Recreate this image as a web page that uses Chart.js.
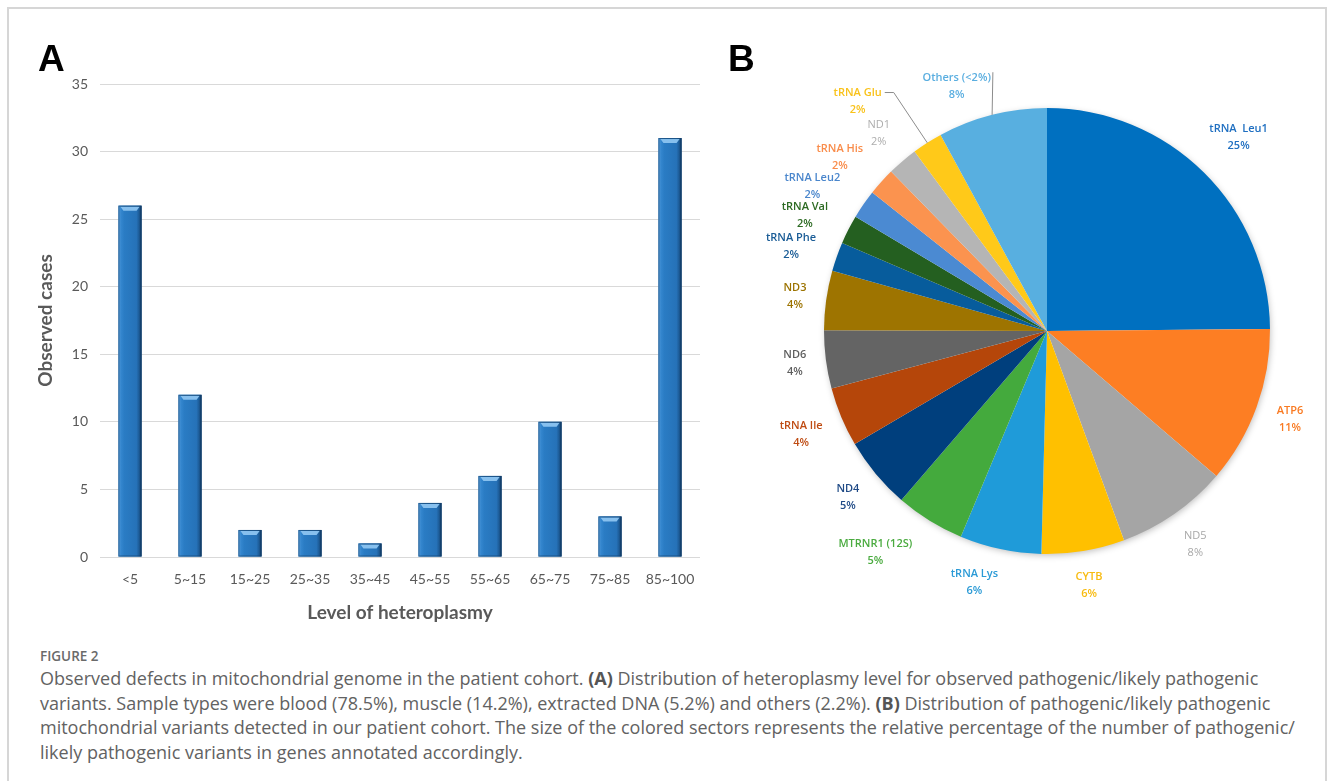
<!DOCTYPE html>
<html>
<head>
<meta charset="utf-8">
<script src="https://cdn.jsdelivr.net/npm/chart.js@4"></script>
<style>
  body { margin: 0; background: #fff; }
  #wrap { position: relative; width: 1331px; height: 781px; overflow: hidden; }
  #frame { position: absolute; left: 7px; top: 7px; width: 1320px; height: 790px;
           border: 2px solid #d6d6d6; box-sizing: border-box; }
  #barCanvas { position: absolute; left: 0; top: 0; }
  #pieCanvas { position: absolute; left: 720px; top: 0; }
  .panel { position: absolute; font-family: "Liberation Sans", Arial, sans-serif; font-weight: bold;
           font-size: 37px; color: #000; line-height: 1; }
  #caption { position: absolute; left: 40px; top: 646px; width: 1285px; color: #626262;
             font-family: "Open Sans", sans-serif; white-space: nowrap; }
  #caption .fig { font-size: 13.5px; font-weight: 600; color: #6a6a6a; line-height: 20px; }
  #caption .txt { font-size: 18px; line-height: 24.6px; letter-spacing: 0; }
  #caption b { font-weight: 700; color: #555; }
</style>
</head>
<body>
<div id="wrap">
  <div id="frame"></div>
  <canvas id="barCanvas" width="720" height="640"></canvas>
  <canvas id="pieCanvas" width="611" height="640"></canvas>
  <div class="panel" style="left:38px; top:40px;">A</div>
  <div class="panel" style="left:728px; top:40px;">B</div>
  <div id="caption">
    <div class="fig">FIGURE 2</div>
    <div class="txt">Observed defects in mitochondrial genome in the patient cohort. <b>(A)</b> Distribution of heteroplasmy level for observed pathogenic/likely pathogenic<br>variants. Sample types were blood (78.5%), muscle (14.2%), extracted DNA (5.2%) and others (2.2%). <b>(B)</b> Distribution of pathogenic/likely pathogenic<br>mitochondrial variants detected in our patient cohort. The size of the colored sectors represents the relative percentage of the number of pathogenic/<br>likely pathogenic variants in genes annotated accordingly.</div>
  </div>
</div>
<script>
// panel A: heteroplasmy level
const levels = ["<5", "5~15", "15~25", "25~35", "35~45", "45~55", "55~65", "65~75", "75~85", "85~100"];
const cases = [26, 12, 2, 2, 1, 4, 6, 10, 3, 31];
const yTicks = [0, 5, 10, 15, 20, 25, 30, 35];

// panel B: variant share by gene (percent)
const genes = ["tRNA  Leu1", "ATP6", "ND5", "CYTB", "tRNA Lys", "MTRNR1 (12S)", "ND4", "tRNA Ile",
  "ND6", "ND3", "tRNA Phe", "tRNA Val", "tRNA Leu2", "tRNA His", "ND1", "tRNA Glu", "Others (<2%)"];
const shares = [24.8, 11.4, 8.1, 6.0, 5.9, 5.0, 5.2, 4.3, 4.2, 4.3, 2.1, 2.1, 2.1, 2.0, 2.2, 2.2, 7.9];
const sliceColors = ["#0070c0", "#fd7e23", "#a5a5a5", "#ffc000", "#1f9bd9", "#44aa3d", "#003f7d", "#b5460a",
  "#646464", "#9e7400", "#075c9c", "#245f20", "#4b8ad2", "#fb934f", "#b5b5b5", "#ffc919", "#58afe0"];
const labelColors = ["#1f6fc1", "#f97a22", "#a8a8a8", "#f8bb10", "#2a9ad6", "#4aab3f", "#1f4a86", "#bf4b12",
  "#5e5e5e", "#9c7300", "#1a5c96", "#2c6a22", "#4a86cc", "#f98c4a", "#adadad", "#f9c21a", "#5aaee0"];

const gray = "#595959";

// 3D-looking bars drawn over the library's bar geometry
const bevel = {
  id: "bevel",
  afterDatasetsDraw(chart) {
    const ctx = chart.ctx;
    chart.getDatasetMeta(0).data.forEach(bar => {
      const p = bar.getProps(["x", "y", "base", "width"], true);
      const l = p.x - p.width / 2, r = p.x + p.width / 2, h = p.base - p.y;
      const g = ctx.createLinearGradient(l, 0, r, 0);
      g.addColorStop(0, "#6aaae2");
      g.addColorStop(0.1, "#3587cf");
      g.addColorStop(0.25, "#2a7cc4");
      g.addColorStop(0.78, "#2672b8");
      g.addColorStop(0.9, "#1c5a95");
      g.addColorStop(1, "#0e3154");
      ctx.save();
      ctx.fillStyle = g;
      ctx.fillRect(l, p.y, p.width, h);
      const cap = Math.min(5, h / 2);
      ctx.fillStyle = "rgba(140,196,240,0.95)";
      ctx.beginPath();
      ctx.moveTo(l + 2, p.y + 1);
      ctx.lineTo(r - 2, p.y + 1);
      ctx.lineTo(r - 5, p.y + cap);
      ctx.lineTo(l + 5, p.y + cap);
      ctx.closePath();
      ctx.fill();
      ctx.strokeStyle = "rgba(20,60,100,0.6)";
      ctx.lineWidth = 1;
      ctx.strokeRect(l + 0.5, p.y + 0.5, p.width - 1, h - 1);
      ctx.restore();
    });
  }
};

new Chart("barCanvas", {
  type: "bar",
  data: {
    labels: levels,
    datasets: [{ data: cases, backgroundColor: "#2b7cc4", borderWidth: 0,
                 barPercentage: 0.385, categoryPercentage: 1 }]
  },
  options: {
    responsive: false,
    animation: false,
    devicePixelRatio: 1,
    layout: { padding: { left: 0, right: 20, top: 84, bottom: 0 } },
    plugins: { legend: { display: false }, tooltip: { enabled: false } },
    scales: {
      x: {
        grid: { display: false, drawTicks: false },
        border: { display: false },
        ticks: { color: gray, padding: 14, font: { family: "Lato", size: 14 } },
        title: { display: true, text: "Level of heteroplasmy", color: gray,
                 font: { family: "Lato", size: 19, weight: "bold" }, padding: { top: 0, bottom: 16 } },
        afterFit(s) { s.height = 83; }
      },
      y: {
        min: 0, max: 35,
        afterBuildTicks(s) { s.ticks = yTicks.map(v => ({ value: v })); },
        grid: { color: "#d9d9d9", drawTicks: false, lineWidth: 1 },
        border: { display: false },
        ticks: { color: gray, padding: 12, font: { family: "Lato", size: 14 } },
        title: { display: true, text: "Observed cases", color: gray,
                 font: { family: "Lato", size: 19, weight: "bold" }, padding: { top: 34, bottom: 0 } },
        afterFit(s) { s.width = 100; }
      }
    }
  },
  plugins: [bevel]
});

// soft shadow under the whole pie
const pieShadow = {
  id: "pieShadow",
  beforeDatasetsDraw(chart) {
    const arc = chart.getDatasetMeta(0).data[0];
    if (!arc) return;
    const p = arc.getProps(["x", "y", "outerRadius"], true);
    const ctx = chart.ctx;
    ctx.save();
    ctx.shadowColor = "rgba(0,0,0,0.28)";
    ctx.shadowBlur = 7;
    ctx.shadowOffsetX = 1;
    ctx.shadowOffsetY = 2;
    ctx.fillStyle = "#ffffff";
    ctx.beginPath();
    ctx.arc(p.x, p.y, p.outerRadius - 1, 0, Math.PI * 2);
    ctx.fill();
    ctx.restore();
  }
};

// outside labels for the pie, placed from each arc's own angles
const pieText = {
  id: "pieText",
  afterDatasetsDraw(chart, args, opts) {
    const ctx = chart.ctx;
    ctx.save();
    ctx.textAlign = "center";
    ctx.textBaseline = "middle";
    chart.getDatasetMeta(0).data.forEach((arc, i) => {
      const p = arc.getProps(["x", "y", "startAngle", "endAngle", "outerRadius"], true);
      const tweak = opts.tweaks[genes[i]] || {};
      const mid = (p.startAngle + p.endAngle) / 2;
      const ang = mid + (tweak.turn || 0) * Math.PI / 180;
      const light = opts.light.includes(genes[i]);
      ctx.font = (light ? "normal " : "600 ") + "11px 'Open Sans'";
      const pct = Math.round(shares[i]) + "%";
      const w = Math.max(ctx.measureText(genes[i]).width, ctx.measureText(pct).width);
      const hh = 30;
      const gap = 18 + (tweak.push || 0);
      const d = p.outerRadius + gap + (w / 2) * Math.abs(Math.cos(ang)) + (hh / 2) * Math.abs(Math.sin(ang));
      const cx = p.x + Math.cos(ang) * d;
      const cy = p.y + Math.sin(ang) * d;
      if (tweak.leader) {
        const ex = p.x + Math.cos(mid) * p.outerRadius;
        const ey = p.y + Math.sin(mid) * p.outerRadius;
        const nw = ctx.measureText(genes[i]).width;
        ctx.strokeStyle = "#8c8c8c";
        ctx.lineWidth = 1;
        ctx.beginPath();
        ctx.moveTo(ex, ey);
        if (tweak.leader === "elbow") {
          ctx.lineTo(cx + nw / 2 + 12, cy - 8.5);
          ctx.lineTo(cx + nw / 2 + 3, cy - 8.5);
        } else {
          ctx.lineTo(cx + nw / 2 + 2, cy - 14);
        }
        ctx.stroke();
      }
      ctx.fillStyle = labelColors[i];
      ctx.fillText(genes[i], cx, cy - 8.5);
      ctx.fillText(pct, cx, cy + 8.5);
    });
    ctx.restore();
  }
};

new Chart("pieCanvas", {
  type: "pie",
  data: {
    labels: genes,
    datasets: [{ data: shares, backgroundColor: sliceColors, borderWidth: 0 }]
  },
  options: {
    responsive: false,
    animation: false,
    devicePixelRatio: 1,
    layout: { padding: { left: 104, right: 61, top: 108, bottom: 86 } },
    plugins: {
      legend: { display: false },
      tooltip: { enabled: false },
      pieText: {
        light: ["ND5", "ND1"],
        tweaks: {
          "tRNA Lys": { turn: 4 },
          "MTRNR1 (12S)": { turn: 6, push: 5 },
          "tRNA Phe": { turn: -1.2 },
          "tRNA Val": { turn: -1.5 },
          "tRNA Leu2": { turn: -3, push: 3 },
          "tRNA His": { turn: -2, push: 2 },
          "tRNA Glu": { push: 30, turn: -7, leader: "elbow" },
          "Others (<2%)": { turn: -6, push: -6, leader: "up" }
        }
      }
    }
  },
  plugins: [pieShadow, pieText]
});
</script>
</body>
</html>
